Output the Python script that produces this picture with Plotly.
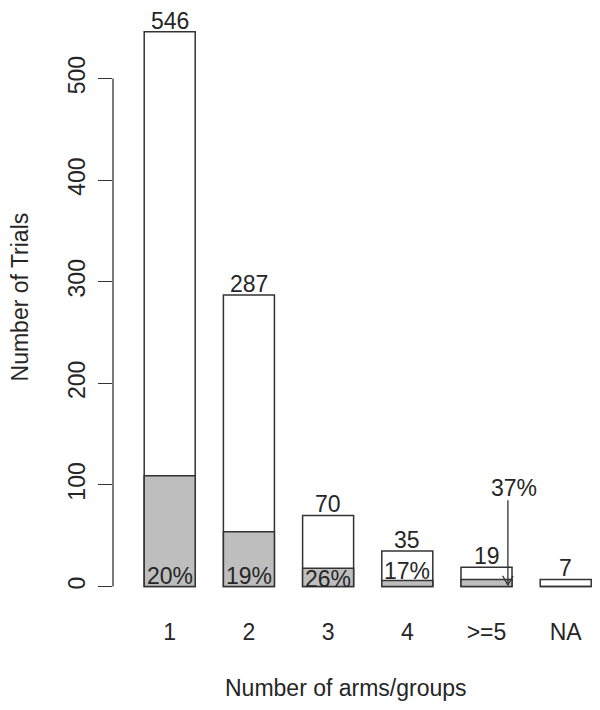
import plotly.graph_objects as go

categories = ["1", "2", "3", "4", ">=5", "NA"]
totals = [546, 287, 70, 35, 19, 7]
subset = [109, 54, 18, 6, 7, 0]
pct_labels = ["20%", "19%", "26%", "17%", "37%", ""]
y_ticks = [0, 100, 200, 300, 400, 500]
x_title = "Number of arms/groups"
y_title = "Number of Trials"

x = list(range(len(categories)))
FONT = "Liberation Sans, Arial, Helvetica, sans-serif"
INK = "#262626"
LINE = "#333333"
BARW = 0.644
FS = 23

fig = go.Figure()
fig.add_trace(go.Bar(x=x, y=totals, width=BARW, marker=dict(color="white", line=dict(color=LINE, width=1.5)),
                     hoverinfo="skip", showlegend=False))
fig.add_trace(go.Bar(x=x, y=subset, width=BARW, marker=dict(color="#BEBEBE", line=dict(color=LINE, width=1.5)),
                     hoverinfo="skip", showlegend=False))

annotations = []
for xi, t in zip(x, totals):
    annotations.append(dict(x=xi, y=t, text=str(t), showarrow=False, xref="x", yref="y",
                            yanchor="bottom", yshift=-4, font=dict(size=FS, color=INK, family=FONT)))

# percentage labels inside bars (first four), arrow label for the fifth
pct_shift = [-4, -4, -7, 1]
for i in range(4):
    annotations.append(dict(x=x[i], y=0, text=pct_labels[i], showarrow=False, xref="x", yref="y",
                            yanchor="bottom", yshift=pct_shift[i], font=dict(size=FS, color=INK, family=FONT)))

arrow_x = x[4] + 0.27
annotations.append(dict(x=x[4] + 0.35, y=85, text=pct_labels[4], showarrow=False, xref="x", yref="y",
                        yanchor="bottom", yshift=-3, font=dict(size=FS, color=INK, family=FONT)))

# axis titles
annotations.append(dict(x=0.4697, y=-0.1333, xref="paper", yref="paper", text=x_title, showarrow=False,
                        xanchor="center", yanchor="middle", font=dict(size=FS, color=INK, family=FONT)))
annotations.append(dict(x=-0.1859, y=0.5192, xref="paper", yref="paper", text=y_title, showarrow=False,
                        textangle=-90, xanchor="center", yanchor="middle", borderpad=0,
                        font=dict(size=FS, color=INK, family=FONT)))

shapes = [
    # y axis line spanning tick range only (R style)
    dict(type="line", xref="paper", yref="y", x0=0, x1=0, y0=y_ticks[0], y1=y_ticks[-1],
         line=dict(color=LINE, width=1.3)),
    # arrow shaft
    dict(type="line", xref="x", yref="y", x0=arrow_x, x1=arrow_x, y0=85, y1=1.5,
         line=dict(color=LINE, width=1.3)),
    # arrow head (open V)
    dict(type="path", xref="x", yref="y",
         path=f"M {arrow_x-0.065},{1.5+9} L {arrow_x},{1.5} L {arrow_x+0.065},{1.5+9}",
         line=dict(color=LINE, width=1.3)),
]

fig.update_layout(
    width=600, height=710,
    margin=dict(l=105, r=0, t=0, b=110),
    paper_bgcolor="white", plot_bgcolor="white",
    barmode="overlay",
    font=dict(family=FONT, size=FS, color=INK),
    annotations=annotations, shapes=shapes,
    xaxis=dict(range=[-0.716, 5.534], tickvals=x, ticktext=categories, showgrid=False, zeroline=False,
               showline=False, ticks="outside", ticklen=3, tickcolor="rgba(0,0,0,0)",
               tickfont=dict(size=FS, color=INK, family=FONT)),
    yaxis=dict(range=[-21.16, 569.4], tickvals=y_ticks, showgrid=False, zeroline=False, showline=False,
               ticks="outside", ticklen=14, tickwidth=1.3, tickcolor=LINE, tickangle=-90,
               ticklabelstandoff=4,
               tickfont=dict(size=FS, color=INK, family=FONT)),
)

fig.write_html("out.html")
